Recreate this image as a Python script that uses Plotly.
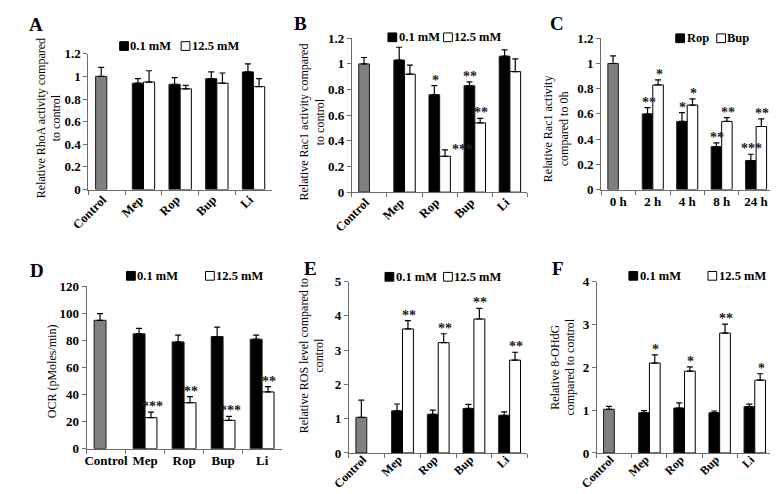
import plotly.graph_objects as go

# ---------------- data ----------------
drug_cats = ["Control", "Mep", "Rop", "Bup", "Li"]
time_cats = ["0 h", "2 h", "4 h", "8 h", "24 h"]

A_black = [1.00, 0.94, 0.93, 0.98, 1.04]
A_black_err = [0.08, 0.04, 0.06, 0.06, 0.07]
A_white = [None, 0.95, 0.89, 0.94, 0.91]
A_white_err = [0, 0.10, 0.03, 0.09, 0.07]
A_sig_black = ["", "", "", "", ""]
A_sig_white = ["", "", "", "", ""]

B_black = [1.00, 1.03, 0.76, 0.83, 1.06]
B_black_err = [0.05, 0.10, 0.07, 0.03, 0.05]
B_white = [None, 0.92, 0.28, 0.54, 0.94]
B_white_err = [0, 0.07, 0.05, 0.035, 0.10]
B_sig_black = ["", "", "*", "**", ""]
B_sig_white = ["", "", "***", "**", ""]

C_rop = [1.00, 0.60, 0.54, 0.34, 0.23]
C_rop_err = [0.06, 0.05, 0.07, 0.03, 0.05]
C_bup = [None, 0.83, 0.67, 0.54, 0.50]
C_bup_err = [0, 0.04, 0.05, 0.03, 0.06]
C_sig_rop = ["", "**", "*", "**", "***"]
C_sig_bup = ["", "*", "*", "**", "**"]

D_black = [95, 85, 79, 83, 81]
D_black_err = [5, 4, 5, 7, 3]
D_white = [None, 23, 34, 21, 42]
D_white_err = [0, 4, 4.5, 3, 4]
D_sig_black = ["", "", "", "", ""]
D_sig_white = ["", "***", "**", "***", "**"]

E_black = [1.04, 1.23, 1.13, 1.30, 1.10]
E_black_err = [0.50, 0.20, 0.12, 0.12, 0.10]
E_white = [None, 3.62, 3.22, 3.91, 2.71]
E_white_err = [0, 0.24, 0.26, 0.31, 0.23]
E_sig_black = ["", "", "", "", ""]
E_sig_white = ["", "**", "**", "**", "**"]

F_black = [1.02, 0.94, 1.05, 0.94, 1.08]
F_black_err = [0.07, 0.05, 0.12, 0.04, 0.06]
F_white = [None, 2.10, 1.91, 2.80, 1.70]
F_white_err = [0, 0.19, 0.10, 0.21, 0.15]
F_sig_black = ["", "", "", "", ""]
F_sig_white = ["", "*", "*", "**", "*"]

conc_labels = ["0.1 mM", "12.5 mM"]
drug_labels = ["Rop", "Bup"]

# ---------------- layout / style ----------------
W, H = 778, 494
FONT = "Liberation Serif, Times New Roman, serif"
AXIS_COLOR = "#6b6b6b"
GRAY = "#808080"


def px(x):
    return x / W


def py(y):
    return 1 - y / H


panels = [
    dict(letter="A", cats=drug_cats, black=A_black, black_err=A_black_err, white=A_white,
         white_err=A_white_err, sig_b=A_sig_black, sig_w=A_sig_white, yr=[0, 1.2], dtick=0.2,
         title="Relative RhoA activity compared<br>to control", legend=conc_labels,
         box=(63, 251, 40, 180), rot=-45, title_xy=(22, 106), letter_xy=(9, 10),
         leg=[(95, 32), (158, 32)], bottom=False),
    dict(letter="B", cats=drug_cats, black=B_black, black_err=B_black_err, white=B_white,
         white_err=B_white_err, sig_b=B_sig_black, sig_w=B_sig_white, yr=[0, 1.2], dtick=0.2,
         title="Relative Rac1 activity compared<br>to control", legend=conc_labels,
         box=(333, 513, 24, 182.7), rot=-45, title_xy=(292, 110), letter_xy=(280, 9),
         leg=[(370, 23), (427, 23)], bottom=False),
    dict(letter="C", cats=time_cats, black=C_rop, black_err=C_rop_err, white=C_bup,
         white_err=C_bup_err, sig_b=C_sig_rop, sig_w=C_sig_bup, yr=[0, 1.2], dtick=0.2,
         title="Relative Rac1 activity<br>compared to 0h", legend=drug_labels,
         box=(588.5, 765, 24, 180), rot=0, title_xy=(543, 117), letter_xy=(543, 9),
         leg=[(665, 24), (707, 24)], bottom=False),
    dict(letter="D", cats=drug_cats, black=D_black, black_err=D_black_err, white=D_white,
         white_err=D_white_err, sig_b=D_sig_black, sig_w=D_sig_white, yr=[0, 120], dtick=20,
         title="OCR (pMoles/min)", legend=conc_labels,
         box=(61, 261, 280, 447.3), rot=0, title_xy=(25, 367), letter_xy=(10, 264),
         leg=[(102, 269), (183, 269)], bottom=True),
    dict(letter="E", cats=drug_cats, black=E_black, black_err=E_black_err, white=E_white,
         white_err=E_white_err, sig_b=E_sig_black, sig_w=E_sig_white, yr=[0, 5], dtick=1,
         title="Relative ROS level compared to<br>control", legend=conc_labels,
         box=(330, 513, 275, 451.7), rot=-45, title_xy=(292, 351), letter_xy=(291, 261),
         leg=[(367, 270), (427, 270)], bottom=True),
    dict(letter="F", cats=drug_cats, black=F_black, black_err=F_black_err, white=F_white,
         white_err=F_white_err, sig_b=F_sig_black, sig_w=F_sig_white, yr=[0, 4], dtick=1,
         title="Relative 8-OHdG<br>compared to control", legend=conc_labels,
         box=(584, 764, 275, 451.7), rot=-45, title_xy=(549, 363), letter_xy=(544, 261),
         leg=[(617, 269), (698, 269)], bottom=True),
]

BARGAP = 0.39
SQ = 9  # legend square size in px

# special placement tweaks for a few significance labels: (panel, index, series) -> (xshift, yshift)
sig_shift = {("B", 2, "w"): (17, -9)}

fig = go.Figure()
annotations = []
shapes = []
layout = {}

for k, p in enumerate(panels):
    n = k + 1
    xa = "x" if n == 1 else f"x{n}"
    ya = "y" if n == 1 else f"y{n}"
    xkey = "xaxis" if n == 1 else f"xaxis{n}"
    ykey = "yaxis" if n == 1 else f"yaxis{n}"
    x0, x1, y0, y1 = p["box"]

    ncat = len(p["cats"])
    black_colors = [GRAY] + ["black"] * (ncat - 1)
    fig.add_trace(go.Bar(
        x=p["cats"], y=p["black"], xaxis=xa, yaxis=ya, showlegend=False,
        marker=dict(color=black_colors, line=dict(color="#1a1a1a", width=1)),
        error_y=dict(type="data", symmetric=False, array=p["black_err"],
                     arrayminus=[0] * ncat, color="black", thickness=1.2, width=3),
    ))
    fig.add_trace(go.Bar(
        x=p["cats"], y=p["white"], xaxis=xa, yaxis=ya, showlegend=False,
        marker=dict(color="white", line=dict(color="black", width=1)),
        error_y=dict(type="data", symmetric=False, array=p["white_err"],
                     arrayminus=[0] * ncat, color="black", thickness=1.2, width=3),
    ))

    rotated = p["rot"] != 0
    if rotated and p["bottom"]:
        tsize, standoff = 12, -6
    elif rotated:
        tsize, standoff = 12.5, -3
    else:
        tsize, standoff = 13, 0
    layout[xkey] = dict(
        domain=[px(x0), px(x1)], anchor=ya, type="category",
        range=[-0.5, ncat - 0.5], showline=True, linecolor=AXIS_COLOR, linewidth=1,
        ticks="outside", tickson="boundaries", ticklen=4, tickcolor=AXIS_COLOR,
        tickangle=p["rot"], showgrid=False, zeroline=False,
        ticklabelshift=-4 if rotated else 0, ticklabelstandoff=standoff,
        tickfont=dict(family=FONT, size=tsize, color="black", weight="bold"),
    )
    layout[ykey] = dict(
        domain=[py(y1), py(y0)], anchor=xa, range=p["yr"], dtick=p["dtick"],
        showline=True, linecolor=AXIS_COLOR, linewidth=1, ticks="outside", ticklen=4,
        tickcolor=AXIS_COLOR, showgrid=False, zeroline=False,
        tickfont=dict(family=FONT, size=13, color="black", weight="bold"),
    )

    # significance markers
    half = (1 - BARGAP) / 4
    for series, vals, errs, sigs, off in (("b", p["black"], p["black_err"], p["sig_b"], -half),
                                          ("w", p["white"], p["white_err"], p["sig_w"], half)):
        for i, s in enumerate(sigs):
            if not s or vals[i] is None:
                continue
            dx, dy = sig_shift.get((p["letter"], i, series), (1, -4))
            annotations.append(dict(
                x=i + off, y=vals[i] + errs[i], xref=xa, yref=ya, text=s, showarrow=False,
                xanchor="center", yanchor="bottom", xshift=dx, yshift=dy,
                font=dict(family=FONT, size=14, color="#222222", weight="bold"),
            ))

    # y-axis title
    tx, ty = p["title_xy"]
    annotations.append(dict(
        x=px(tx), y=py(ty), xref="paper", yref="paper", text=p["title"], textangle=-90,
        showarrow=False, xanchor="center", yanchor="middle",
        font=dict(family=FONT, size=12, color="black"),
    ))
    # panel letter
    lx, ly = p["letter_xy"]
    annotations.append(dict(
        x=px(lx), y=py(ly), xref="paper", yref="paper", text=p["letter"], showarrow=False,
        xanchor="center", yanchor="middle",
        font=dict(family=FONT, size=19, color="black", weight="bold"),
    ))
    # legend: square swatch + label
    for (gx, gy), fill, lab in zip(p["leg"], ["black", "white"], p["legend"]):
        shapes.append(dict(
            type="rect", xref="paper", yref="paper",
            x0=px(gx), x1=px(gx + SQ), y0=py(gy + SQ / 2), y1=py(gy - SQ / 2),
            fillcolor=fill, line=dict(color="black", width=1),
        ))
        annotations.append(dict(
            x=px(gx + SQ + 1), y=py(gy), xref="paper", yref="paper", text=lab,
            showarrow=False, xanchor="left", yanchor="middle", borderpad=0,
            font=dict(family=FONT, size=12.5, color="black", weight="bold"),
        ))

fig.update_layout(
    width=W, height=H, margin=dict(l=0, r=0, t=0, b=0),
    paper_bgcolor="white", plot_bgcolor="white",
    barmode="group", bargap=BARGAP, bargroupgap=0,
    showlegend=False, annotations=annotations, shapes=shapes, **layout,
)

fig.write_html("out.html")
